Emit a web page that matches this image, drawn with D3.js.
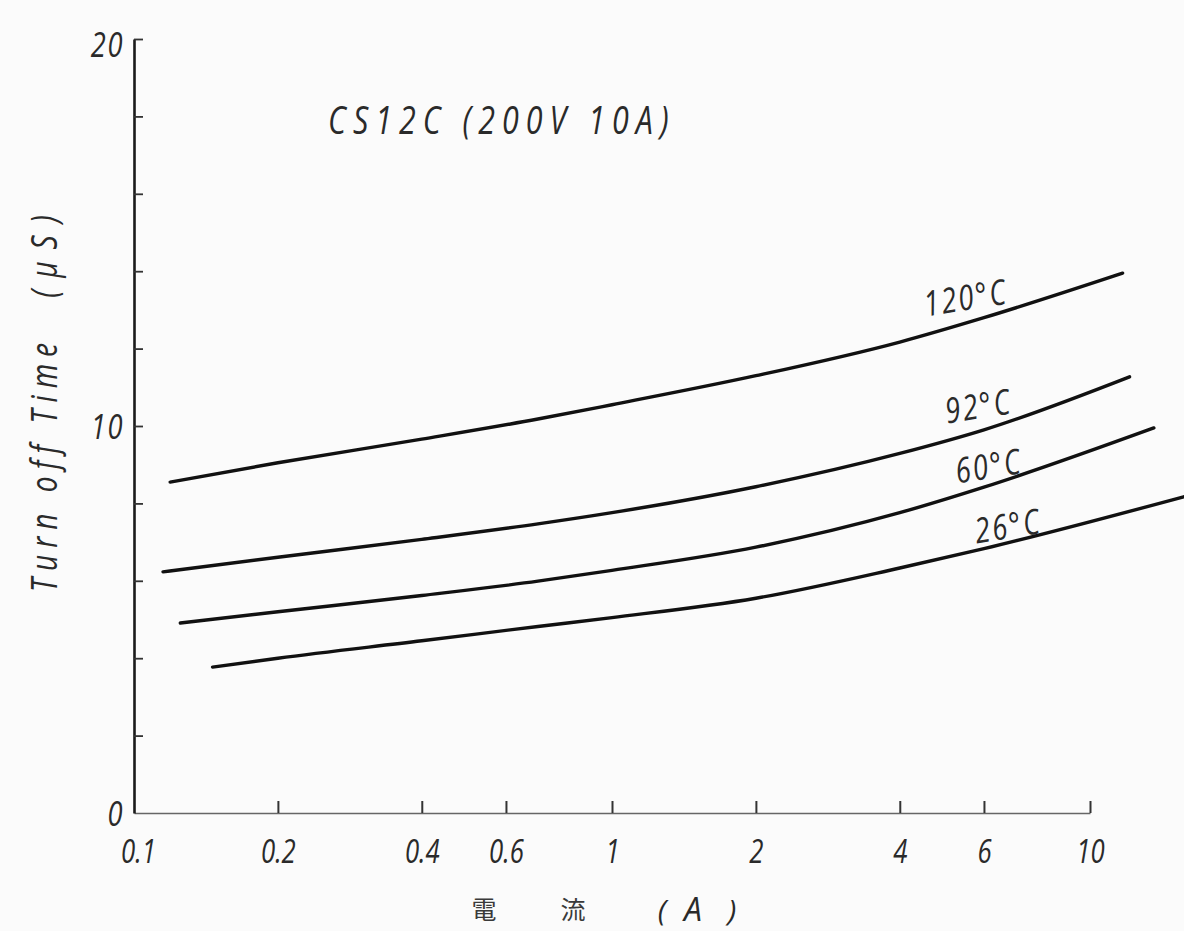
<!DOCTYPE html>
<html>
<head>
<meta charset="utf-8">
<script src="https://cdn.jsdelivr.net/npm/d3@7"></script>
<style>
  html, body { margin: 0; padding: 0; background: #fbfbfb; }
  svg { display: block; }
  .lbl { font-family: "Open Sans", "Liberation Sans", sans-serif; font-style: italic; fill: #2a2a2a; }
  .cjk { font-family: "Noto Sans CJK JP", "Noto Sans CJK SC", sans-serif; fill: #3a3a3a; }
</style>
</head>
<body>
<svg id="chart" width="1184" height="931"></svg>
<script>
// ---- data ----
const seriesNames = ["120°C", "92°C", "60°C", "26°C"];
const currents120 = [0.119, 0.2, 0.4, 0.7, 1, 2, 4, 6, 11.7];
const time120     = [8.55, 9.05, 9.66, 10.18, 10.55, 11.30, 12.17, 12.80, 13.95];
const currents92  = [0.115, 0.2, 0.4, 0.7, 1, 2, 4, 6, 12.1];
const time92      = [6.23, 6.61, 7.07, 7.47, 7.76, 8.43, 9.29, 9.90, 11.27];
const currents60  = [0.125, 0.2, 0.4, 0.7, 1, 2, 4, 6, 13.6];
const time60      = [4.91, 5.20, 5.62, 5.99, 6.27, 6.87, 7.76, 8.42, 9.95];
const currents26  = [0.146, 0.2, 0.4, 0.7, 1, 2, 4, 6, 15.7];
const time26      = [3.77, 4.00, 4.45, 4.82, 5.05, 5.55, 6.33, 6.83, 8.17];

const xTickValues = [0.1, 0.2, 0.4, 0.6, 1, 2, 4, 6, 10];
const xTickLabels = ["0.1", "0.2", "0.4", "0.6", "1", "2", "4", "6", "10"];
const yTickValues = [0, 2, 4, 6, 8, 10, 12, 14, 16, 18, 20];
const yTickLabels = {0: "0", 10: "10", 20: "20"};

const chartTitle = "CS12C (200V 10A)";
const yTitleMain = "Turn off Time";
const yTitleUnit = "( μ S )";

// ---- layout ----
const SX = 0.78; // horizontal squeeze to imitate the condensed lettering
const svg = d3.select("#chart");
const x = d3.scaleLog().domain([0.1, 10]).range([134, 1090]);
const y = d3.scaleLinear().domain([0, 20]).range([813, 39]);

// x axis
const xAxis = svg.append("g")
  .attr("transform", `translate(0,${y(0)})`)
  .call(d3.axisBottom(x).tickValues(xTickValues)
        .tickFormat((d, i) => xTickLabels[i]).tickSizeInner(-12).tickSizeOuter(0).tickPadding(0));
xAxis.select(".domain").attr("stroke", "#666").attr("stroke-width", 1.6);
xAxis.selectAll(".tick line").attr("stroke", "#333").attr("stroke-width", 2)
  .filter(d => d === 0.1).remove();
xAxis.selectAll(".tick text")
  .attr("class", "lbl").attr("font-size", 33).attr("y", 50).attr("dy", 0)
  .attr("fill", "#444")
  .attr("transform", d => d === 0.1 ? `translate(4,0) scale(${SX},1)` : `scale(${SX},1)`);

// y axis
const yAxis = svg.append("g")
  .attr("transform", `translate(${x(0.1)},0)`)
  .call(d3.axisLeft(y).tickValues(yTickValues)
        .tickFormat(d => yTickLabels[d] || "").tickSizeInner(-9).tickSizeOuter(0).tickPadding(0));
yAxis.select(".domain").attr("stroke", "#1a1a1a").attr("stroke-width", 2.6);
yAxis.selectAll(".tick line").attr("stroke", "#333").attr("stroke-width", 1.8)
  .filter(d => d === 0).remove();
yAxis.selectAll(".tick text")
  .attr("class", "lbl").attr("font-size", 35).attr("x", 0).attr("dy", "0.36em")
  .attr("letter-spacing", 2)
  .attr("fill", "#333")
  .attr("transform", d => `translate(-10,${d === 20 ? 5 : 0}) scale(${SX},1)`);

// curves
const line = d3.line().x(d => x(d[0])).y(d => y(d[1])).curve(d3.curveMonotoneX);
const series = [
  [currents120, time120],
  [currents92, time92],
  [currents60, time60],
  [currents26, time26]
];
svg.append("g").selectAll("path").data(series).join("path")
  .attr("d", s => line(d3.zip(s[0], s[1])))
  .attr("fill", "none").attr("stroke", "#111").attr("stroke-width", 3.4)
  .attr("stroke-linecap", "round");

// curve labels
const labelPos = [
  {xv: 5.55, yv: 13.0},
  {xv: 5.9, yv: 10.2},
  {xv: 6.2,  yv: 8.65},
  {xv: 6.8,  yv: 7.1}
];
svg.append("g").selectAll("text").data(seriesNames).join("text")
  .attr("class", "lbl").attr("font-size", 35).attr("text-anchor", "middle")
  .attr("letter-spacing", 3).attr("fill", "#333")
  .attr("transform", (d, i) => `translate(${x(labelPos[i].xv)},${y(labelPos[i].yv)}) rotate(-9) scale(${SX},1)`)
  .text(d => d);

// chart title
svg.append("text").attr("class", "lbl")
  .attr("transform", `translate(328,134) scale(${SX},1)`)
  .attr("font-size", 39).attr("letter-spacing", 9)
  .attr("fill", "#222")
  .text(chartTitle);

// y axis title
svg.append("text").attr("class", "lbl")
  .attr("transform", `translate(57,592) rotate(-90) scale(${SX},1)`)
  .attr("text-anchor", "start").attr("font-size", 36).attr("letter-spacing", 9)
  .attr("fill", "#333")
  .text(yTitleMain);
svg.append("text").attr("class", "lbl")
  .attr("transform", `translate(57,213) rotate(-90) scale(${SX},1)`)
  .attr("text-anchor", "end").attr("font-size", 36).attr("letter-spacing", 3)
  .attr("fill", "#333")
  .text(yTitleUnit);

// x axis title
const xt = svg.append("g");
xt.append("text").attr("class", "cjk").attr("x", 484).attr("y", 919)
  .attr("text-anchor", "middle").attr("font-size", 25).text("電");
xt.append("text").attr("class", "cjk").attr("x", 573).attr("y", 919)
  .attr("text-anchor", "middle").attr("font-size", 25).text("流");
xt.append("text").attr("class", "lbl").attr("x", 662).attr("y", 921)
  .attr("text-anchor", "middle").attr("font-size", 30).attr("font-style", "normal").attr("fill", "#444").text("(");
xt.append("text").attr("class", "lbl").attr("x", 693).attr("y", 921)
  .attr("text-anchor", "middle").attr("font-size", 32).attr("fill", "#444").text("A");
xt.append("text").attr("class", "lbl").attr("x", 732).attr("y", 921)
  .attr("text-anchor", "middle").attr("font-size", 30).attr("font-style", "normal").attr("fill", "#444").text(")");
</script>
</body>
</html>
